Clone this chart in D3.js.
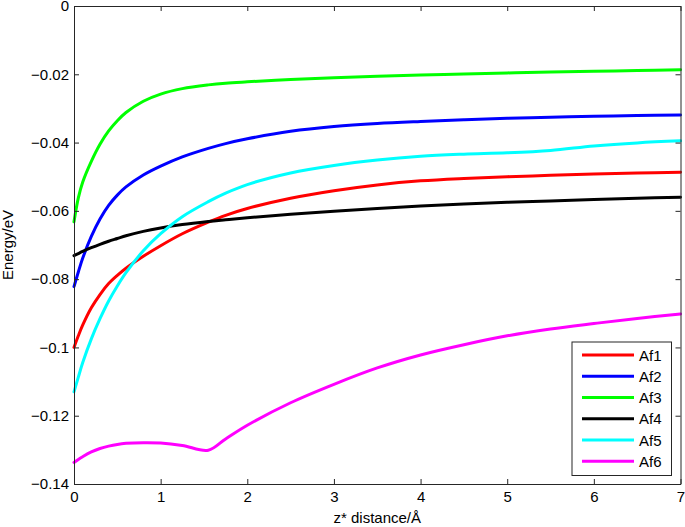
<!DOCTYPE html>
<html>
    <head>
        <meta charset="utf-8">
        <title>Energy vs z* distance</title>
        <style>
            body { margin: 0; background: #fff; }
            text { font-family: "Liberation Sans", Arial, Helvetica, sans-serif; fill: #000; }
            .line { fill: none; stroke-width: 3px; stroke-linejoin: round; stroke-linecap: round; }
            .axis path, .axis line { stroke: #262626; }
        </style>
    </head>
    <body>
    </body>
</html>
<script src="https://d3js.org/d3.v7.min.js"></script>
<script>

    // data
    var zGrid = [0, 0.05, 0.1, 0.2, 0.3, 0.4, 0.5, 0.6, 0.8, 1.0, 1.25, 1.55, 1.75, 2.0, 2.5, 3.0, 3.5, 4.0, 4.5, 5.0, 5.5, 6.0, 6.5, 7.0];

    var af1 = [-0.1000, -0.0966, -0.0935, -0.0884, -0.0845, -0.0813, -0.0789, -0.0768, -0.0733, -0.0702, -0.0667, -0.0633, -0.0613, -0.0593, -0.0563, -0.0541, -0.0524, -0.0512, -0.0505, -0.0500, -0.0496, -0.0492, -0.0489, -0.0487];
    var af2 = [-0.0822, -0.0779, -0.0739, -0.0675, -0.0624, -0.0584, -0.0554, -0.0530, -0.0495, -0.0469, -0.0442, -0.0417, -0.0403, -0.0389, -0.0367, -0.0353, -0.0344, -0.0338, -0.0333, -0.0329, -0.0326, -0.0323, -0.0321, -0.0319];
    var af3 = [-0.0632, -0.0562, -0.0516, -0.0455, -0.0405, -0.0366, -0.0336, -0.0312, -0.0279, -0.0258, -0.0242, -0.0231, -0.0226, -0.0222, -0.0215, -0.0210, -0.0206, -0.0202, -0.0199, -0.0196, -0.0193, -0.0191, -0.0189, -0.0187];
    var af4 = [-0.0731, -0.0725, -0.0719, -0.0708, -0.0698, -0.0689, -0.0681, -0.0673, -0.0660, -0.0650, -0.0640, -0.0631, -0.0626, -0.0620, -0.0610, -0.0601, -0.0593, -0.0586, -0.0580, -0.0575, -0.0571, -0.0567, -0.0563, -0.0560];
    var af5 = [-0.1130, -0.1087, -0.1045, -0.0975, -0.0916, -0.0864, -0.0820, -0.0781, -0.0717, -0.0667, -0.0617, -0.0573, -0.0548, -0.0523, -0.0489, -0.0467, -0.0451, -0.0440, -0.0434, -0.0430, -0.0423, -0.0410, -0.0401, -0.0395];
    var af6 = [-0.1337, -0.1328, -0.1320, -0.1306, -0.1296, -0.1289, -0.1284, -0.1281, -0.1279, -0.1280, -0.1287, -0.1301, -0.1268, -0.1228, -0.1162, -0.1108, -0.1060, -0.1022, -0.0992, -0.0966, -0.0946, -0.0930, -0.0915, -0.0902];

    var seriesNames = ["Af1", "Af2", "Af3", "Af4", "Af5", "Af6"];
    var seriesColors = ["#ff0000", "#0000ff", "#00ff00", "#000000", "#00ffff", "#ff00ff"];
    var seriesValues = [af1, af2, af3, af4, af5, af6];

    var xTicks = [0, 1, 2, 3, 4, 5, 6, 7];
    var yTicks = [0, -0.02, -0.04, -0.06, -0.08, -0.1, -0.12, -0.14];

    // set the dimensions and margins of the graph
    var W = 685, H = 527;
    var margin = {top: 6, right: 4.5, bottom: 43, left: 74},
        width = W - margin.left - margin.right,
        height = H - margin.top - margin.bottom;

    var x = d3.scaleLinear().domain([0, 7]).range([0, width]);
    var y = d3.scaleLinear().domain([-0.14, 0]).range([height, 0]);

    var fmtY = function(v) {
        if (v === 0) return "0";
        return "\u2212" + String(+Math.abs(v).toFixed(2));
    };

    var svg = d3.select("body")
        .append("svg")
            .attr("width", W)
            .attr("height", H)
        .append("g")
            .attr("transform", "translate(" + margin.left + "," + margin.top + ")");

    // the lines
    var valueline = d3.line()
        .x(function(d) { return x(d[0]); })
        .y(function(d) { return y(d[1]); })
        .curve(d3.curveCatmullRom.alpha(0.5));

    seriesValues.forEach(function(vals, i) {
        var pts = zGrid.map(function(z, j) { return [z, vals[j]]; });
        svg.append("path")
            .attr("class", "line")
            .attr("stroke", seriesColors[i])
            .attr("d", valueline(pts));
    });

    // axes, ticks pointing inward on all four sides
    svg.append("g")
        .attr("class", "axis")
        .attr("transform", "translate(0," + height + ")")
        .call(d3.axisBottom(x).tickValues(xTicks).tickFormat(d3.format("d")).tickSizeInner(-5).tickSizeOuter(0).tickPadding(7))
        .selectAll("text").style("font-size", "15px").attr("fill", "#000");

    svg.append("g")
        .attr("class", "axis")
        .call(d3.axisLeft(y).tickValues(yTicks).tickFormat(fmtY).tickSizeInner(-5).tickSizeOuter(0).tickPadding(5))
        .selectAll("text").style("font-size", "15px").attr("fill", "#000");

    svg.append("g")
        .attr("class", "axis")
        .call(d3.axisTop(x).tickValues(xTicks).tickSizeInner(-5).tickSizeOuter(0).tickFormat(""));

    svg.append("g")
        .attr("class", "axis")
        .attr("transform", "translate(" + width + ",0)")
        .call(d3.axisRight(y).tickValues(yTicks).tickSizeInner(-5).tickSizeOuter(0).tickFormat(""));

    // axis labels
    svg.append("text")
        .attr("x", width / 2)
        .attr("y", height + 39)
        .attr("text-anchor", "middle")
        .style("font-size", "15px")
        .text("z* distance/\u00c5");

    svg.append("text")
        .attr("transform", "rotate(-90)")
        .attr("x", -height / 2)
        .attr("y", -margin.left + 13)
        .attr("text-anchor", "middle")
        .style("font-size", "15px")
        .text("Energy/eV");

    // legend
    var legend = svg.append("g")
        .attr("transform", "translate(" + (572 - margin.left) + "," + (342 - margin.top) + ")");

    legend.append("rect")
        .attr("width", 99.5)
        .attr("height", 133.5)
        .attr("fill", "#fff")
        .attr("stroke", "#262626")
        .attr("stroke-width", 1);

    seriesNames.forEach(function(name, i) {
        var ly = 13 + i * 21.25;
        legend.append("line")
            .attr("x1", 10).attr("x2", 62)
            .attr("y1", ly).attr("y2", ly)
            .attr("stroke", seriesColors[i])
            .attr("stroke-width", 3);
        legend.append("text")
            .attr("x", 67)
            .attr("y", ly + 5.5)
            .style("font-size", "15px")
            .text(name);
    });
</script>
